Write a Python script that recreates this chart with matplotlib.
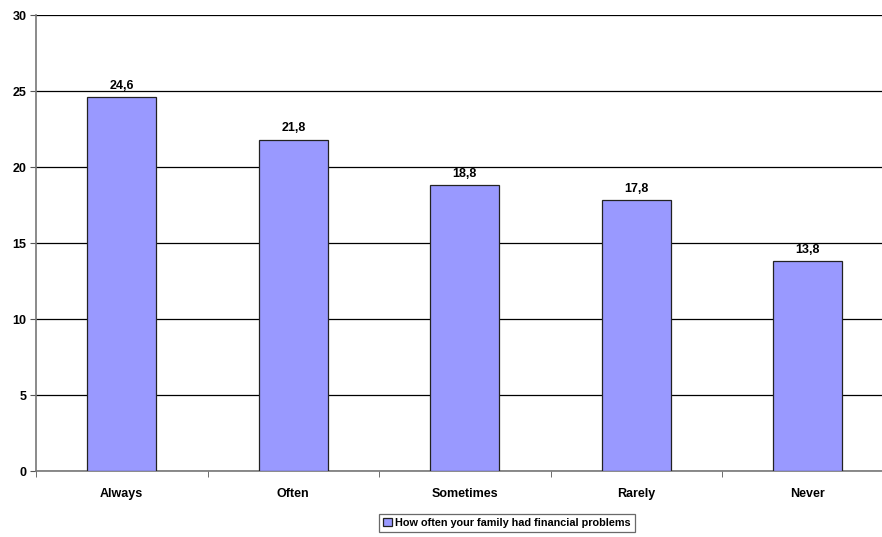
import numpy as np
import matplotlib.pyplot as plt

categories = ["Always", "Often", "Sometimes", "Rarely", "Never"]
values = [24.6, 21.8, 18.8, 17.8, 13.8]
series_label = "How often your family had financial problems"

plt.rcParams['font.family'] = ['Liberation Sans', 'DejaVu Sans']
plt.rcParams['font.weight'] = 'bold'
plt.rcParams['font.size'] = 9

fig = plt.figure(figsize=(8.82, 5.37), dpi=100)
W, H = 882, 537
left, right, top, bottom = 36, 893.5, 15, 471
ax = fig.add_axes([left / W, 1 - bottom / H, (right - left) / W, (bottom - top) / H])

x = np.arange(len(categories))
bars = ax.bar(x, values, width=0.4, color='#9999FF', edgecolor='#222222',
              linewidth=0.9, label=series_label, zorder=3)

for xi, v in zip(x, values):
    ax.annotate(f"{v:.1f}".replace('.', ','), (xi, v), xytext=(0, 4),
                textcoords='offset points', ha='center', va='bottom',
                fontweight='bold', fontsize=9)

ax.set_xlim(-0.5, len(categories) - 0.5)
ax.set_ylim(0, 30)
ax.set_yticks(range(0, 31, 5))
ax.yaxis.grid(True, color='black', linewidth=0.9, zorder=0)
ax.set_axisbelow(True)

ax.set_xticks(x)
ax.set_xticklabels(categories)
ax.set_xticks(np.arange(-0.5, len(categories), 1), minor=True)
ax.tick_params(axis='x', which='major', length=0, pad=12)
ax.tick_params(axis='x', which='minor', length=4, color='#555555')
ax.tick_params(axis='y', length=4, color='#555555', pad=3)

for s in ('top', 'right'):
    ax.spines[s].set_visible(False)
ax.spines['left'].set_color('#777777')
ax.spines['bottom'].set_color('#777777')
ax.spines['left'].set_linewidth(1.2)
ax.spines['bottom'].set_linewidth(1.2)

leg = fig.legend(handles=[bars], labels=[series_label], loc='center',
                 bbox_to_anchor=(507 / W, 1 - 523 / H), frameon=True,
                 fancybox=False, handlelength=0.8, handleheight=0.8,
                 handletextpad=0.3, borderpad=0.35, fontsize=7.8)
leg.get_frame().set_edgecolor('#444444')
leg.get_frame().set_linewidth(0.9)

fig.savefig("out.png", dpi=100)
